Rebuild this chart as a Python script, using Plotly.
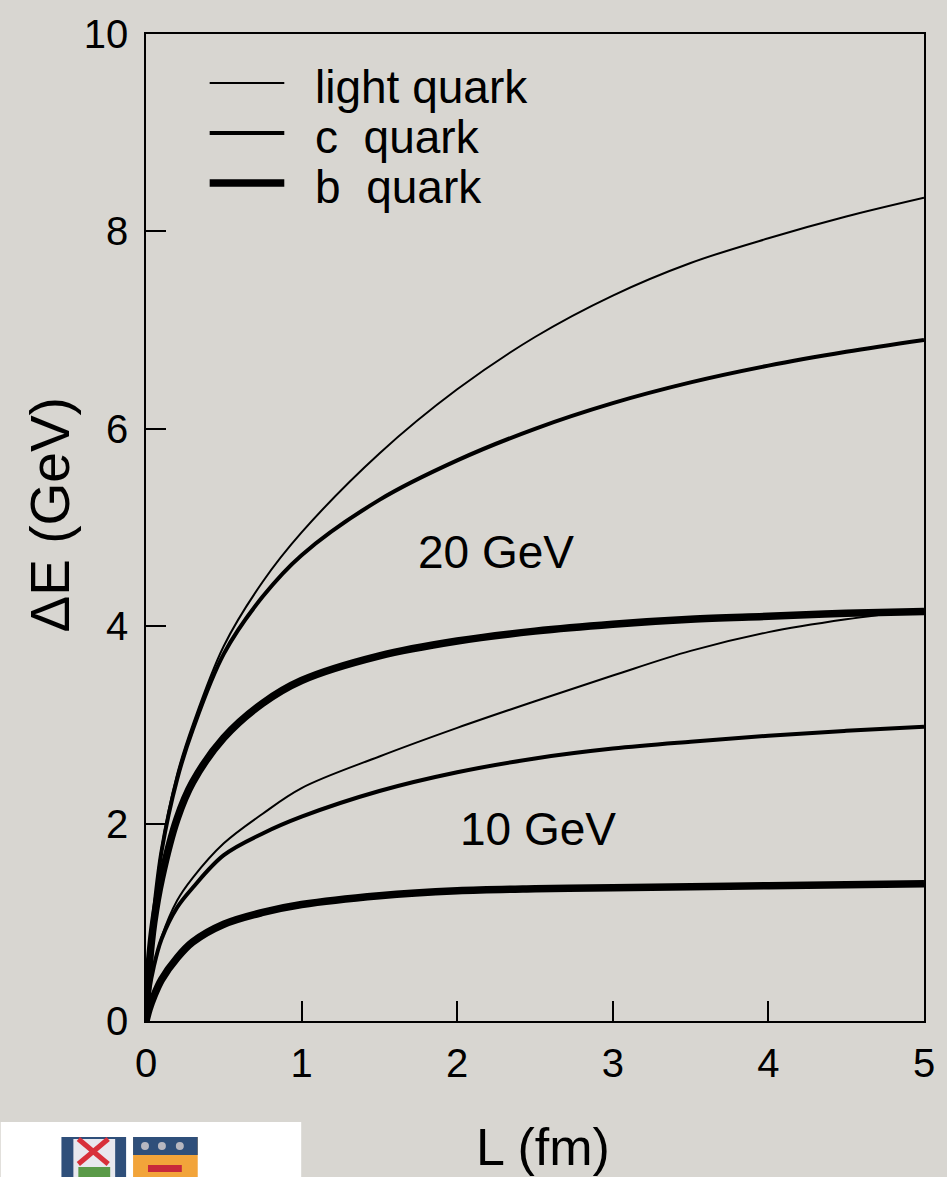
import plotly.graph_objects as go

# Path length L (fm) at which the energy loss is tabulated
L_fm = [0, 0.02, 0.05, 0.1, 0.2, 0.3, 0.5, 0.75, 1, 1.5, 2, 2.5, 3, 3.5, 4, 4.5, 5]

# Energy loss Delta E (GeV) for a 20 GeV parton
light_20 = [0, 0.6, 1.1, 1.75, 2.5, 3.0, 3.8, 4.45, 4.95, 5.75, 6.4, 6.93, 7.35, 7.68, 7.93, 8.15, 8.34]
charm_20 = [0, 0.6, 1.1, 1.72, 2.45, 2.95, 3.72, 4.3, 4.72, 5.28, 5.68, 6.0, 6.26, 6.47, 6.64, 6.78, 6.90]
bottom_20 = [0, 0.55, 1.0, 1.45, 2.05, 2.42, 2.87, 3.22, 3.45, 3.7, 3.85, 3.95, 4.02, 4.07, 4.1, 4.13, 4.15]

# Energy loss Delta E (GeV) for a 10 GeV parton
light_10 = [0, 0.3, 0.55, 0.85, 1.22, 1.45, 1.8, 2.1, 2.36, 2.68, 2.97, 3.24, 3.5, 3.75, 3.94, 4.07, 4.17]
charm_10 = [0, 0.3, 0.55, 0.83, 1.15, 1.35, 1.68, 1.9, 2.07, 2.33, 2.52, 2.66, 2.76, 2.83, 2.89, 2.94, 2.98]
bottom_10 = [0, 0.12, 0.25, 0.42, 0.64, 0.8, 0.98, 1.1, 1.18, 1.27, 1.32, 1.34, 1.35, 1.36, 1.37, 1.38, 1.39]

legend_labels = ["light quark", "c\u00a0\u00a0quark", "b\u00a0\u00a0quark"]
line_widths = [2, 4, 7.5]

W, H = 947, 1177
M_L, M_R, M_T, M_B = 146, 19, 34, 156
PW, PH = W - M_L - M_R, H - M_T - M_B
BG = "#d8d6d1"
FONT = "Liberation Sans, Arial, Helvetica, sans-serif"


def px(x):
    return (x - M_L) / PW


def py(y):
    return (H - M_B - y) / PH


fig = go.Figure()

series = [
    (light_20, 0), (charm_20, 1), (bottom_20, 2),
    (light_10, 0), (charm_10, 1), (bottom_10, 2),
]
for vals, kind in series:
    fig.add_trace(go.Scatter(
        x=L_fm, y=vals, mode="lines",
        line=dict(color="black", width=line_widths[kind], shape="spline", smoothing=1.0),
        showlegend=False, hoverinfo="skip",
    ))

shapes = []
annotations = []

# Hand-drawn legend: long sample lines with labels
legend_y = [83, 133, 183]
for label, w, yy in zip(legend_labels, line_widths, legend_y):
    shapes.append(dict(type="line", xref="paper", yref="paper",
                       x0=px(210), x1=px(285), y0=py(yy), y1=py(yy),
                       line=dict(color="black", width=w)))
    annotations.append(dict(xref="paper", yref="paper", x=px(314), y=py(yy + 4),
                            xanchor="left", yanchor="middle", showarrow=False,
                            text=label, font=dict(size=46, color="black", family=FONT)))

# Curve-family labels
annotations.append(dict(x=2.25, y=4.75, xref="x", yref="y", showarrow=False,
                        text="20 GeV", font=dict(size=46, color="black", family=FONT)))
annotations.append(dict(x=2.52, y=1.95, xref="x", yref="y", showarrow=False,
                        text="10 GeV", font=dict(size=46, color="black", family=FONT)))

# Axis titles
annotations.append(dict(xref="paper", yref="paper", x=px(545), y=py(1147),
                        xanchor="center", yanchor="middle", showarrow=False,
                        text="L (fm)", font=dict(size=52, color="black", family=FONT)))
annotations.append(dict(xref="paper", yref="paper", x=px(50), y=py(515),
                        xanchor="center", yanchor="middle", showarrow=False, textangle=-90,
                        text="\u0394E (GeV)", font=dict(size=55, color="black", family=FONT)))

# University crest in the lower-left corner
shapes.append(dict(type="rect", xref="paper", yref="paper", layer="above",
                   x0=px(0), x1=px(302), y0=py(1122), y1=py(1177),
                   fillcolor="white", line=dict(width=0)))
shapes.append(dict(type="rect", xref="paper", yref="paper", layer="above",
                   x0=px(61), x1=px(126), y0=py(1137), y1=py(1177),
                   fillcolor="#2f4f7a", line=dict(width=0)))
shapes.append(dict(type="rect", xref="paper", yref="paper", layer="above",
                   x0=px(73), x1=px(115), y0=py(1139), y1=py(1177),
                   fillcolor="#e8e8ee", line=dict(width=0)))
shapes.append(dict(type="line", xref="paper", yref="paper", layer="above",
                   x0=px(78), x1=px(108), y0=py(1139), y1=py(1164),
                   line=dict(color="#d8303a", width=5)))
shapes.append(dict(type="line", xref="paper", yref="paper", layer="above",
                   x0=px(108), x1=px(78), y0=py(1139), y1=py(1164),
                   line=dict(color="#d8303a", width=5)))
shapes.append(dict(type="rect", xref="paper", yref="paper", layer="above",
                   x0=px(78), x1=px(110), y0=py(1167), y1=py(1177),
                   fillcolor="#5a9a48", line=dict(width=0)))
shapes.append(dict(type="rect", xref="paper", yref="paper", layer="above",
                   x0=px(133), x1=px(198), y0=py(1137), y1=py(1177),
                   fillcolor="#f2a43a", line=dict(width=0)))
shapes.append(dict(type="rect", xref="paper", yref="paper", layer="above",
                   x0=px(133), x1=px(198), y0=py(1137), y1=py(1155),
                   fillcolor="#2f4f7a", line=dict(width=0)))
for cx in (145, 162, 180):
    shapes.append(dict(type="circle", xref="paper", yref="paper", layer="above",
                       x0=px(cx - 4), x1=px(cx + 4), y0=py(1142), y1=py(1150),
                       fillcolor="#b8b8c0", line=dict(width=0)))
shapes.append(dict(type="rect", xref="paper", yref="paper", layer="above",
                   x0=px(148), x1=px(182), y0=py(1165), y1=py(1172),
                   fillcolor="#c8283a", line=dict(width=0)))

axis_common = dict(
    showgrid=False, zeroline=False, showline=True, mirror=True,
    linecolor="black", linewidth=1.5,
    ticks="inside", ticklen=20, tickwidth=1.5, tickcolor="black",
    tickfont=dict(size=40, color="black", family=FONT),
)

fig.update_layout(
    width=W, height=H,
    margin=dict(l=M_L, r=M_R, t=M_T, b=M_B),
    paper_bgcolor=BG, plot_bgcolor=BG,
    xaxis=dict(range=[0, 5], tickvals=[0, 1, 2, 3, 4, 5], ticklabelstandoff=6, **axis_common),
    yaxis=dict(range=[0, 10], tickvals=[0, 2, 4, 6, 8, 10], ticklabelstandoff=8, **axis_common),
    shapes=shapes,
    annotations=annotations,
    showlegend=False,
)

fig.write_html("out.html")
